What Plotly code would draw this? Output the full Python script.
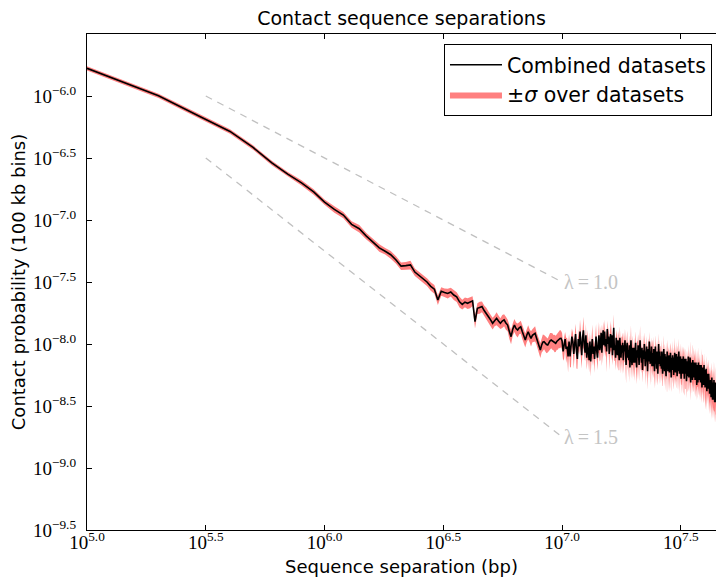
import plotly.graph_objects as go

# Bin index n -> separation n * 100 kb
BIN_SIZE_BP = 100000

# log10 of contact probability per 100 kb bin (n = 1 .. 450)
LOG_P = [
    -5.777, -5.998, -6.167, -6.286, -6.415, -6.540, -6.630, -6.700, -6.774, -6.855,
    -6.915, -6.960, -7.035, -7.070, -7.130, -7.175, -7.225, -7.252, -7.280, -7.322,
    -7.372, -7.368, -7.362, -7.420, -7.448, -7.476, -7.500, -7.535, -7.558, -7.645,
    -7.575, -7.585, -7.592, -7.580, -7.605, -7.620, -7.660, -7.680, -7.662, -7.672,
    -7.665, -7.652, -7.820, -7.712, -7.705, -7.698, -7.730, -7.752, -7.780, -7.806,
    -7.833, -7.812, -7.793, -7.815, -7.833, -7.815, -7.806, -7.830, -7.847, -7.900,
    -7.941, -7.880, -7.847, -7.875, -7.887, -7.870, -7.861, -7.900, -7.940, -7.968,
    -7.930, -7.901, -7.930, -7.954, -7.930, -7.920, -7.914, -7.950, -7.990, -8.020,
    -8.048, -8.010, -7.985, -7.981, -7.995, -8.005, -8.008, -7.990, -7.975, -7.968,
    -7.975, -7.985, -7.990, -7.994, -7.980, -7.970, -7.960, -7.955, -7.954, -7.975,
    -8.06, -8.02, -7.96, -8.04, -8.02, -8.10, -7.98, -8.10, -8.04, -7.94,
    -7.98, -8.08, -8.00, -7.92, -8.06, -8.12, -7.96, -8.02, -7.90, -8.04,
    -8.09, -7.95, -7.89, -8.01, -8.07, -7.93, -8.11, -7.99, -8.05, -8.13,
    -7.98, -8.14, -8.04, -7.96, -8.08, -8.02, -8.12, -8.00, -7.94, -8.06,
    -8.11, -7.99, -7.93, -8.05, -8.01, -7.91, -8.07, -7.95, -7.89, -8.01,
    -7.90, -8.02, -7.96, -8.06, -7.88, -8.00, -7.94, -8.08, -7.98, -7.92,
    -8.03, -7.93, -8.09, -7.97, -7.87, -8.05, -8.01, -8.11, -7.95, -8.03,
    -8.09, -7.97, -8.05, -8.13, -7.95, -8.03, -8.11, -8.01, -8.07, -7.99,
    -8.13, -8.01, -8.06, -7.97, -8.09, -8.17, -8.03, -7.99, -8.11, -8.05,
    -8.13, -8.01, -8.19, -8.05, -7.97, -8.11, -8.17, -8.03, -8.09, -8.15,
    -8.03, -8.15, -8.07, -7.99, -8.13, -8.19, -8.05, -8.11, -8.01, -8.09,
    -8.17, -8.05, -7.97, -8.11, -8.07, -8.15, -8.03, -8.21, -8.09, -8.05,
    -8.12, -8.00, -8.08, -8.18, -8.06, -8.14, -8.02, -8.10, -8.22, -8.08,
    -8.04, -8.14, -7.98, -8.10, -8.16, -8.06, -8.12, -8.02, -8.18, -8.08,
    -8.08, -8.18, -8.04, -8.14, -8.22, -8.10, -8.02, -8.16, -8.08, -8.20,
    -8.06, -8.14, -8.24, -8.10, -8.00, -8.16, -8.12, -8.06, -8.18, -8.10,
    -8.12, -8.20, -8.06, -8.16, -8.24, -8.10, -8.18, -8.04, -8.14, -8.22,
    -8.08, -8.16, -8.12, -8.26, -8.10, -8.18, -8.06, -8.14, -8.22, -8.12,
    -8.17, -8.09, -8.23, -8.13, -8.19, -8.07, -8.15, -8.27, -8.11, -8.17,
    -8.21, -8.09, -8.17, -8.13, -8.25, -8.11, -8.19, -8.07, -8.15, -8.23,
    -8.12, -8.20, -8.08, -8.18, -8.26, -8.14, -8.10, -8.22, -8.16, -8.06,
    -8.17, -8.24, -8.12, -8.20, -8.10, -8.16, -8.28, -8.14, -8.22, -8.12,
    -8.14, -8.24, -8.16, -8.10, -8.22, -8.18, -8.28, -8.12, -8.20, -8.16,
    -8.24, -8.12, -8.20, -8.30, -8.16, -8.22, -8.14, -8.26, -8.18, -8.10,
    -8.21, -8.27, -8.15, -8.23, -8.19, -8.11, -8.25, -8.31, -8.17, -8.23,
    -8.15, -8.25, -8.19, -8.29, -8.13, -8.23, -8.17, -8.27, -8.21, -8.15,
    -8.23, -8.17, -8.29, -8.19, -8.25, -8.15, -8.27, -8.21, -8.33, -8.17,
    -8.25, -8.19, -8.31, -8.23, -8.15, -8.27, -8.21, -8.29, -8.17, -8.25,
    -8.27, -8.19, -8.31, -8.23, -8.17, -8.29, -8.25, -8.35, -8.21, -8.27,
    -8.19, -8.29, -8.23, -8.33, -8.25, -8.17, -8.31, -8.27, -8.21, -8.35,
    -8.24, -8.34, -8.26, -8.20, -8.32, -8.28, -8.38, -8.24, -8.30, -8.34,
    -8.26, -8.36, -8.30, -8.24, -8.38, -8.32, -8.28, -8.40, -8.30, -8.36,
    -8.39, -8.29, -8.35, -8.43, -8.31, -8.37, -8.27, -8.41, -8.35, -8.45,
    -8.31, -8.39, -8.45, -8.33, -8.37, -8.29, -8.41, -8.35, -8.47, -8.37,
    -8.31, -8.41, -8.36, -8.47, -8.37, -8.33, -8.43, -8.39, -8.35, -8.45,
]

# relative standard deviation over datasets (percent), per bin
SIGMA_PCT = [
    4, 4, 4, 4, 4, 4, 4, 5, 5, 5,
    6, 6, 6, 7, 6, 6, 7, 6, 7, 7,
    7, 7, 8, 7, 7, 8, 7, 8, 8, 9,
    8, 8, 9, 8, 9, 9, 10, 9, 9, 10,
    10, 9, 12, 10, 11, 10, 10, 11, 10, 11,
    11, 10, 12, 11, 10, 12, 11, 12, 11, 13,
    13, 11, 12, 12, 13, 11, 12, 13, 12, 13,
    12, 13, 12, 14, 12, 13, 14, 12, 13, 14,
    14, 13, 15, 13, 14, 15, 13, 14, 16, 14,
    15, 14, 16, 15, 14, 16, 15, 17, 15, 16,
    16, 20, 14, 23, 17, 26, 15, 19, 28, 16,
    18, 24, 15, 21, 27, 17, 20, 14, 25, 19,
    22, 16, 29, 18, 15, 24, 20, 27, 17, 21,
    19, 25, 16, 31, 20, 17, 23, 18, 26, 15,
    21, 17, 28, 19, 24, 16, 22, 30, 18, 20,
    25, 18, 21, 32, 17, 23, 19, 26, 16, 28,
    20, 24, 17, 22, 29, 18, 25, 21, 16, 27,
    23, 19, 31, 17, 24, 20, 26, 18, 33, 21,
    22, 27, 18, 24, 20, 29, 17, 25, 22, 19,
    28, 21, 24, 18, 32, 20, 23, 26, 19, 25,
    21, 29, 18, 24, 22, 27, 20, 34, 23, 19,
    26, 20, 31, 22, 25, 18, 28, 21, 24, 33,
    19, 25, 23, 30, 20, 27, 22, 18, 29, 24,
    22, 28, 20, 25, 33, 21, 24, 19, 27, 23,
    31, 20, 26, 22, 28, 19, 24, 35, 21, 25,
    23, 29, 20, 26, 22, 32, 19, 25, 28, 21,
    27, 21, 24, 34, 20, 26, 23, 29, 22, 25,
    20, 28, 23, 26, 31, 22, 25, 19, 33, 24,
    25, 21, 30, 23, 27, 20, 36, 24, 22, 28,
    23, 31, 21, 26, 24, 29, 20, 34, 25, 22,
    28, 22, 26, 32, 21, 25, 23, 30, 20, 27,
    24, 33, 22, 26, 28, 21, 25, 35, 23, 27,
    22, 29, 25, 20, 32, 24, 27, 23, 31, 26,
    25, 21, 34, 27, 23, 29, 22, 26, 36, 24,
    28, 23, 26, 31, 22, 37, 25, 29, 24, 27,
    23, 30, 26, 22, 34, 25, 28, 24, 32, 27,
    29, 24, 27, 38, 25, 31, 23, 28, 26, 33,
    25, 30, 27, 23, 35, 28, 26, 32, 24, 29,
    31, 26, 29, 24, 36, 27, 30, 25, 33, 28,
    27, 32, 25, 29, 38, 26, 31, 28, 24, 34,
    30, 26, 33, 28, 36, 25, 31, 27, 39, 29,
    28, 34, 26, 31, 29, 40, 27, 32, 30, 35,
    33, 28, 36, 31, 27, 42, 32, 29, 35, 30,
    31, 37, 29, 34, 32, 43, 28, 35, 31, 38,
    34, 30, 39, 32, 36, 31, 44, 33, 37, 32,
]

# Guide power laws: exponent lambda and log10 value at the start of each guide
LAMBDAS = [1.0, 1.5]
LAMBDA_START_LOG = [-6.0, -6.5]
GUIDE_X_LOG = [5.5, 7.0]

X_TICK_EXP = [5.0, 5.5, 6.0, 6.5, 7.0, 7.5]
Y_TICK_EXP = [-9.5, -9.0, -8.5, -8.0, -7.5, -7.0, -6.5, -6.0]

x = [(i + 1) * BIN_SIZE_BP for i in range(len(LOG_P))]
p = [10 ** v for v in LOG_P]
upper = [pi * (1 + s / 100.0) for pi, s in zip(p, SIGMA_PCT)]
lower = [pi * (1 - s / 100.0) for pi, s in zip(p, SIGMA_PCT)]

fig = go.Figure()

# guide lines
for lam, y0 in zip(LAMBDAS, LAMBDA_START_LOG):
    gx = [10 ** g for g in GUIDE_X_LOG]
    gy = [10 ** (y0 - lam * (g - GUIDE_X_LOG[0])) for g in GUIDE_X_LOG]
    fig.add_trace(go.Scatter(x=gx, y=gy, mode="lines", showlegend=False,
                             line=dict(color="#c0c0c0", width=1.3, dash="7px,6px"),
                             hoverinfo="skip"))
    fig.add_annotation(x=GUIDE_X_LOG[1], y=y0 - lam * (GUIDE_X_LOG[1] - GUIDE_X_LOG[0]),
                       text=f"λ\u2009=\u2009{lam:.1f}", showarrow=False, xanchor="left",
                       yanchor="middle", xshift=0,
                       font=dict(family="Liberation Serif", size=20, color="#c4c4c4"))

fig.add_trace(go.Scatter(x=x, y=lower, mode="lines", line=dict(width=0, color="#ff8080"),
                         showlegend=False, hoverinfo="skip"))
fig.add_trace(go.Scatter(x=x, y=upper, mode="lines", line=dict(width=0, color="#ff8080"),
                         fill="tonexty", fillcolor="#ff8080",
                         name="±<i>σ</i> over datasets", legendrank=2))
fig.add_trace(go.Scatter(x=x, y=p, mode="lines", line=dict(color="black", width=1.6),
                         name="Combined datasets", legendrank=1))

axis_font = dict(family="Liberation Serif", size=19, color="black")

fig.update_layout(
    width=716, height=578,
    margin=dict(l=87, r=0, t=34, b=48, autoexpand=False),
    paper_bgcolor="white", plot_bgcolor="white",
    title=dict(text="Contact sequence separations", x=(87 + 716) / 2 / 716, xanchor="center",
               y=1 - 18 / 578, yanchor="middle",
               font=dict(family="DejaVu Sans", size=19, color="black")),
    font=dict(family="DejaVu Sans", color="black"),
    legend=dict(x=0.9936, xanchor="right", y=0.98, yanchor="top",
                bgcolor="white", bordercolor="black", borderwidth=1,
                font=dict(family="DejaVu Sans", size=20.5, color="black"),
                traceorder="normal", itemwidth=52, tracegroupgap=0),
    showlegend=True,
)

fig.update_xaxes(
    type="log", range=[5.0, 7.648], automargin=False,
    tickvals=[10 ** e for e in X_TICK_EXP],
    ticktext=[f"10<sup>{e:.1f}</sup>" for e in X_TICK_EXP],
    tickfont=axis_font, ticks="inside", ticklen=5, tickwidth=1, tickcolor="black",
    ticklabelstandoff=-5,
    showline=True, linecolor="black", linewidth=1.3, mirror="ticks",
    showgrid=False, zeroline=False,
    title=dict(text="Sequence separation (bp)", font=dict(family="DejaVu Sans", size=18),
               standoff=8),
)
fig.update_yaxes(
    type="log", range=[-9.5, -5.5], automargin=False,
    tickvals=[10 ** e for e in Y_TICK_EXP],
    ticktext=[f"10<sup>−{abs(e):.1f}</sup>" for e in Y_TICK_EXP],
    tickfont=axis_font, ticks="inside", ticklen=5, tickwidth=1, tickcolor="black",
    ticklabelstandoff=6,
    showline=True, linecolor="black", linewidth=1.3, mirror=False,
    showgrid=False, zeroline=False,
    title=dict(text="Contact probability (100 kb bins)", font=dict(family="DejaVu Sans", size=18),
               standoff=2),
)

fig.write_html(
    "out.html",
    config={"displayModeBar": False},
    post_script="document.body.style.margin='0';document.body.style.overflow='hidden';",
)
